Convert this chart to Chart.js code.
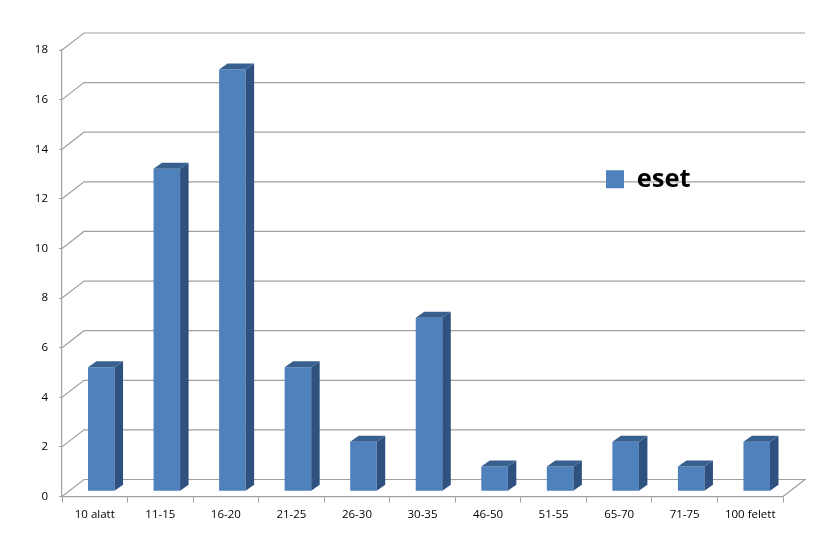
<!DOCTYPE html>
<html><head><meta charset="utf-8">
<style>html,body{margin:0;padding:0;background:#fff}#w{width:828px;height:553px;position:relative}</style>
<script src="https://cdn.jsdelivr.net/npm/chart.js@4"></script>
</head><body><div id="w"><canvas id="c" width="828" height="553"></canvas></div>
<script>
const categories = ['10 alatt','11-15','16-20','21-25','26-30','30-35','46-50','51-55','65-70','71-75','100 felett'];
const seriesName = 'eset';
const seriesValues = [5,13,17,5,2,7,1,1,2,1,2];
const yMax = 18, yStep = 2;

const FONT = '"Open Sans", sans-serif';
const WALL = {dx: 22, dy: -17};
const BAR = {dx: 6.5, dy: -5.2, depthX: 8.5, depthY: -6};
const GRID = '#a0a0a0';

const wall3d = {
  id: 'wall3d',
  beforeDraw(chart) {
    const {ctx, scales: {x, y}} = chart;
    ctx.save();
    ctx.strokeStyle = GRID; ctx.lineWidth = 1.2;
    const l = x.left, r = x.right;
    for (let v = 0; v <= yMax; v += yStep) {
      const py = y.getPixelForValue(v);
      ctx.beginPath();
      ctx.moveTo(l, py);
      ctx.lineTo(l + WALL.dx, py + WALL.dy);
      ctx.lineTo(r + WALL.dx, py + WALL.dy);
      if (v === 0) ctx.lineTo(r, py);
      ctx.stroke();
    }
    ctx.restore();
  },
  beforeDatasetsDraw(chart) {
    chart.ctx.save();
    chart.ctx.translate(BAR.dx, BAR.dy);
  },
  afterDatasetsDraw(chart) {
    const ctx = chart.ctx;
    chart.getDatasetMeta(0).data.forEach(el => {
      const p = el.getProps(['x','y','base','width'], true);
      const L = p.x - p.width/2, R = p.x + p.width/2, T = p.y, B = p.base;
      const dx = BAR.depthX, dy = BAR.depthY;
      ctx.fillStyle = '#2f5180';
      ctx.beginPath();
      ctx.moveTo(R,T); ctx.lineTo(R+dx,T+dy); ctx.lineTo(R+dx,B+dy); ctx.lineTo(R,B);
      ctx.closePath(); ctx.fill();
      ctx.fillStyle = '#38608f';
      ctx.beginPath();
      ctx.moveTo(L,T); ctx.lineTo(L+dx,T+dy); ctx.lineTo(R+dx,T+dy); ctx.lineTo(R,T);
      ctx.closePath(); ctx.fill();
    });
    ctx.restore();
  },
  afterLayout(chart) {
    const lg = chart.legend;
    lg.left = 596; lg.right = lg.left + lg.width;
    lg.top = 156.5; lg.bottom = lg.top + lg.height;
    lg.adjustHitBoxes();
  }
};

new Chart(document.getElementById('c'), {
  type: 'bar',
  data: {labels: categories, datasets: [{
    label: seriesName, data: seriesValues,
    backgroundColor: '#4f81bd', borderWidth: 0,
    categoryPercentage: 1, barPercentage: 0.405
  }]},
  options: {
    responsive: false, animation: false, devicePixelRatio: 1,
    layout: {padding: {top: 50, right: 45, left: 0, bottom: 0}},
    scales: {
      x: {
        afterFit(s) { s.height = 56.5; },
        grid: {display: true, drawOnChartArea: false, drawTicks: true, tickLength: 6, color: GRID, offset: true},
        border: {display: true, color: GRID, width: 1.2},
        ticks: {color: '#000', font: {family: FONT, size: 11.5}, padding: 5, maxRotation: 0, autoSkip: false}
      },
      y: {
        min: 0, max: yMax,
        afterFit(s) { s.width = 62; },
        grid: {display: true, drawOnChartArea: false, drawTicks: true, tickLength: 3, color: GRID},
        border: {display: true, color: GRID, width: 1.2},
        ticks: {stepSize: yStep, color: '#000', font: {family: FONT, size: 11.5}, padding: 11}
      }
    },
    plugins: {
      tooltip: {enabled: false},
      title: {display: false},
      legend: {
        display: true, position: 'chartArea', align: 'start',
        labels: {boxWidth: 18, boxHeight: 18, padding: 10, color: '#000',
          font: {family: FONT, size: 25.5, weight: 'bold'}}
      }
    }
  },
  plugins: [wall3d]
});
</script></body></html>
